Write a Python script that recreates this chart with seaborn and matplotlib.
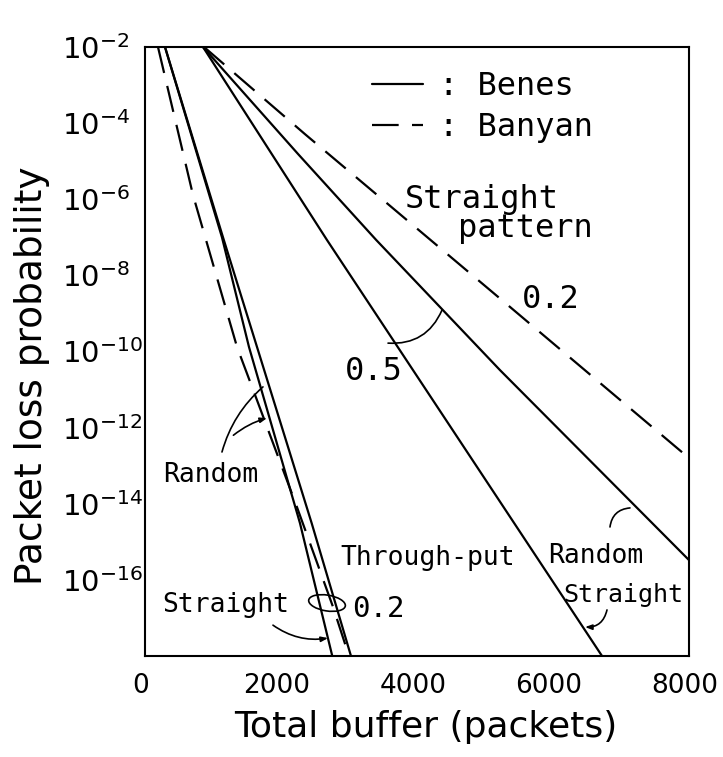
import pandas as pd
import seaborn as sns
import matplotlib.pyplot as plt
import matplotlib.transforms as mtransforms
from matplotlib.lines import Line2D
from matplotlib.patches import Ellipse
from matplotlib.ticker import NullLocator

# total buffer (packets) and log10 of the loss probability
benes_rand_02_x = [294, 1147, 1647, 2451, 3029]
benes_rand_02_e = [-2, -7.0, -9.88, -14.51, -18]
benes_str_02_x = [294, 1132, 1529, 2279, 2754]
benes_str_02_e = [-2, -7.0, -9.88, -14.51, -18]
banyan_02_x = [191, 706, 1353, 1662, 2235, 2765, 3000]
banyan_02_e = [-2, -5.89, -9.88, -11.35, -14.09, -16.71, -18]
benes_rand_05_x = [853, 2250, 3400, 5221, 8000]
benes_rand_05_e = [-2, -4.81, -7.07, -10.49, -15.48]
benes_str_05_x = [853, 2676, 6721]
benes_str_05_e = [-2, -7.07, -18]
banyan_str_x = [868, 2353, 5368, 8000]
banyan_str_e = [-2, -4.29, -8.83, -12.8]

x_ticks = [0, 2000, 4000, 6000, 8000]
y_exps = [-2, -4, -6, -8, -10, -12, -14, -16]

curves = [
    ("benes random 0.2", "Benes", benes_rand_02_x, benes_rand_02_e),
    ("benes straight 0.2", "Benes", benes_str_02_x, benes_str_02_e),
    ("banyan 0.2", "Banyan", banyan_02_x, banyan_02_e),
    ("benes random 0.5", "Benes", benes_rand_05_x, benes_rand_05_e),
    ("benes straight 0.5", "Benes", benes_str_05_x, benes_str_05_e),
    ("banyan straight", "Banyan", banyan_str_x, banyan_str_e),
]
frames = []
for name, net, xs, es in curves:
    frames.append(pd.DataFrame({"curve": name, "network": net, "buffer": xs,
                                "loss": [10.0 ** e for e in es]}))
df = pd.concat(frames, ignore_index=True)

sns.set_style("white")
plt.rcParams["font.family"] = ["DejaVu Sans"]
plt.rcParams["mathtext.fontset"] = "dejavusans"
for key in ["text.color", "axes.labelcolor", "xtick.color", "ytick.color"]:
    plt.rcParams[key] = "black"

mono = ["DejaVu Sans Mono"]
LW = 1.6
DASH = (12, 6)

fig = plt.figure(figsize=(7.23, 7.57), dpi=100)
ax = fig.add_axes([145 / 723, 1 - 656 / 757, 544 / 723, 609 / 757])

sns.lineplot(data=df, x="buffer", y="loss", units="curve", estimator=None,
             style="network", dashes={"Benes": "", "Banyan": DASH},
             color="black", linewidth=LW, legend=False, sort=False, ax=ax)

ax.set_yscale("log")
ax.set_xlim(0, 8000)
ax.set_ylim(1e-18, 1e-2)
ax.set_xticks(x_ticks)
ax.set_xticklabels([str(v) for v in x_ticks], fontsize=19)
ax.set_yticks([10.0 ** k for k in y_exps])
ax.set_yticklabels([f"$10^{{{k}}}$" for k in y_exps], fontsize=21)
ax.yaxis.set_minor_locator(NullLocator())
ax.tick_params(axis="both", direction="in", length=7, width=1.3)
ax.tick_params(axis="x", pad=12)
ax.tick_params(axis="y", pad=60)
shift = mtransforms.ScaledTranslation(-4 / 100, 0, fig.dpi_scale_trans)
for lbl in ax.get_xticklabels():
    lbl.set_transform(lbl.get_transform() + shift)
for lbl in ax.get_yticklabels():
    lbl.set_horizontalalignment("left")
for sp in ax.spines.values():
    sp.set_linewidth(1.5)
    sp.set_color("black")

ax.set_xlabel("Total buffer (packets)", fontsize=26)
ax.set_ylabel("Packet loss probability", fontsize=27)
ax.xaxis.set_label_coords(0.517, -0.089)
ax.yaxis.set_label_coords(-0.175, 0.461)

# legend
handles = [Line2D([], [], color="black", lw=LW),
           Line2D([], [], color="black", lw=LW, dashes=DASH)]
ax.legend(handles, [": Benes", ": Banyan"], frameon=False, loc="upper left",
          bbox_to_anchor=(0.417, 0.96), borderpad=0, borderaxespad=0,
          handlelength=1.6, handletextpad=0.5, labelspacing=0.3,
          prop={"family": mono, "size": 23})

# labels on the curves
txt = dict(va="baseline", ha="left", color="black", family=mono)
ax.text(3824, 10 ** -6.23, "Straight", fontsize=23, **txt)
ax.text(4603, 10 ** -6.99, "pattern", fontsize=23, **txt)
ax.text(5544, 10 ** -8.86, "0.2", fontsize=23, **txt)
ax.text(2941, 10 ** -10.75, "0.5", fontsize=23, **txt)
ax.text(265, 10 ** -13.43, "Random", fontsize=19, **txt)
ax.text(250, 10 ** -16.85, "Straight", fontsize=19, **txt)
ax.text(2868, 10 ** -15.61, "Through-put", fontsize=19, **txt)
ax.text(3044, 10 ** -16.98, "0.2", fontsize=21, **txt)
ax.text(5926, 10 ** -15.56, "Random", fontsize=19, **txt)
ax.text(6147, 10 ** -16.58, "Straight", fontsize=18, **txt)

arr = dict(color="black", lw=1.2, shrinkA=0, shrinkB=0)
head = "-|>,head_length=0.4,head_width=0.15"
ax.annotate("", xy=(1735, 10 ** -10.93), xytext=(1132, 10 ** -12.64),
            arrowprops=dict(arrowstyle="-", connectionstyle="arc3,rad=-0.15", **arr))
ax.annotate("", xy=(1794, 10 ** -11.75), xytext=(1300, 10 ** -12.2),
            arrowprops=dict(arrowstyle=head, connectionstyle="arc3,rad=-0.1", **arr))
ax.annotate("", xy=(2691, 10 ** -17.53), xytext=(1882, 10 ** -17.19),
            arrowprops=dict(arrowstyle=head, connectionstyle="arc3,rad=0.2", **arr))
ax.annotate("", xy=(7132, 10 ** -14.11), xytext=(6838, 10 ** -14.61),
            arrowprops=dict(arrowstyle="-", connectionstyle="arc3,rad=-0.4", **arr))
ax.annotate("", xy=(6471, 10 ** -17.24), xytext=(6794, 10 ** -16.79),
            arrowprops=dict(arrowstyle=head, connectionstyle="arc3,rad=-0.4", **arr))
ax.annotate("", xy=(4368, 10 ** -8.91), xytext=(3574, 10 ** -9.78),
            arrowprops=dict(arrowstyle="-", connectionstyle="arc3,rad=0.35", **arr))
ax.add_patch(Ellipse((0.3346, 0.087), 0.068, 0.026, angle=-8,
                     transform=ax.transAxes, fill=False, lw=1.2, color="black"))

fig.savefig("out.png", dpi=100)
